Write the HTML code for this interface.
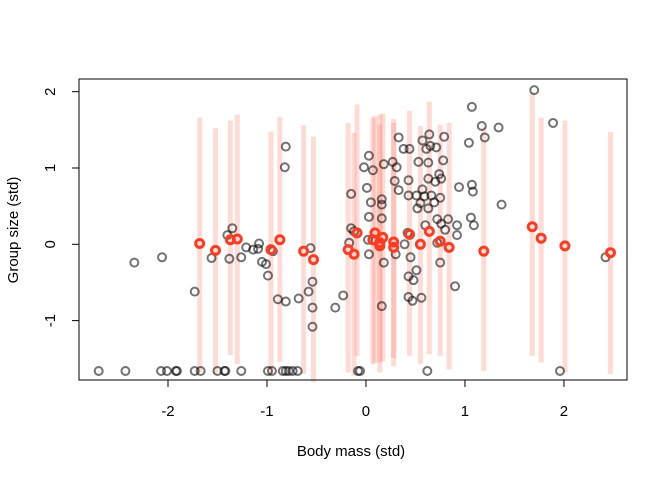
<!DOCTYPE html>
<html><head><meta charset="utf-8"><style>
body{margin:0;background:#fff;}
svg text{font-family:"Liberation Sans",sans-serif;font-size:15px;fill:#000;}
</style></head><body>
<svg id="chart" width="672" height="480">
<g id="bars"></g>
<g id="grey"></g>
<g id="red"></g>
<rect x="79" y="79" width="548" height="301" fill="none" stroke="#000" stroke-width="1"/>
<g id="axes"></g>
<text x="351" y="456" text-anchor="middle">Body mass (std)</text>
<text transform="translate(18,230) rotate(-90)" text-anchor="middle">Group size (std)</text>
</svg>
<script>
const greyX=[-2.70,-2.43,-2.07,-2.01,-1.92,-1.91,-1.73,-1.67,-1.50,-1.43,-1.42,-1.26,-0.99,-0.95,-0.84,-0.81,-0.78,-0.74,-0.69,-0.08,-0.06,0.62,1.96,
-0.81,-0.82,-0.15,-0.15,-0.12,-2.34,-2.06,-1.73,-1.56,-1.40,-1.35,-1.38,-1.26,-1.21,-1.14,-1.09,-1.08,-1.05,-1.01,-0.99,-0.94,-0.89,-0.81,-0.68,-0.56,-0.58,-0.54,-0.54,-0.54,-0.31,-0.23,-0.17,
-0.02,0.03,0.07,0.01,0.05,0.03,0.02,0.03,0.16,0.16,0.16,0.16,0.18,0.18,0.27,0.31,0.33,0.29,0.33,0.30,0.38,0.44,0.53,0.43,0.43,0.42,0.39,0.45,0.51,0.43,0.48,0.43,0.47,0.56,0.57,0.64,0.65,0.61,0.71,0.79,0.63,0.78,0.63,0.70,0.74,0.76,0.57,0.51,0.59,0.66,0.75,0.55,0.52,0.63,0.69,0.60,0.72,0.76,0.83,0.80,0.92,0.92,0.72,0.75,0.90,0.94,1.07,1.08,1.06,1.09,1.04,1.07,1.17,1.20,1.34,1.37,1.70,1.89,2.42];
const greyY=[-1.66,-1.66,-1.66,-1.66,-1.66,-1.66,-1.66,-1.66,-1.66,-1.66,-1.66,-1.66,-1.66,-1.66,-1.66,-1.66,-1.66,-1.66,-1.66,-1.66,-1.66,-1.66,-1.66,
1.28,1.01,0.66,0.21,0.17,-0.24,-0.17,-0.62,-0.18,0.12,0.21,-0.19,-0.17,-0.04,-0.07,-0.06,0.01,-0.23,-0.26,-0.41,-0.09,-0.72,-0.75,-0.71,-0.05,-0.62,-0.49,-0.83,-1.08,-0.83,-0.67,0.02,
1.01,1.16,0.97,0.74,0.55,0.36,0.06,-0.13,0.59,0.52,0.34,-0.81,1.05,-0.24,1.08,1.01,1.40,0.83,0.71,-0.13,1.25,1.25,1.08,0.84,0.64,0.15,0.00,-0.17,-0.34,-0.42,-0.47,-0.69,-0.74,-0.70,1.36,1.44,1.29,1.25,1.27,1.41,1.07,1.10,0.86,0.82,0.92,0.86,0.72,0.64,0.63,0.64,0.61,0.54,0.47,0.47,0.55,0.25,0.33,0.27,0.33,0.19,0.25,0.12,0.02,-0.24,-0.55,0.75,0.78,0.69,0.35,0.25,1.33,1.80,1.55,1.40,1.53,0.52,2.02,1.59,-0.17];
const estX=[-1.68,-1.52,-1.37,-1.30,-0.96,-0.87,-0.63,-0.53,-0.18,-0.12,-0.09,0.07,0.09,0.14,0.14,0.17,0.28,0.28,0.44,0.55,0.64,0.75,0.84,1.19,1.68,1.77,2.01,2.47];
const estY=[0.01,-0.08,0.06,0.07,-0.07,0.06,-0.09,-0.20,-0.07,-0.13,0.15,0.06,0.15,-0.02,0.02,0.09,0.03,-0.04,0.13,0.00,0.17,0.04,-0.04,-0.09,0.23,0.08,-0.02,-0.11];
const estHi=[1.66,1.52,1.62,1.70,1.48,1.67,1.56,1.41,1.59,1.46,1.83,1.66,1.68,1.57,1.70,1.71,1.64,1.59,1.75,1.55,1.87,1.57,1.59,1.53,1.99,1.66,1.62,1.47];
const estLo=[-1.68,-1.70,-1.45,-1.57,-1.70,-1.54,-1.70,-1.90,-1.68,-1.72,-1.46,-1.57,-1.55,-1.68,-1.55,-1.53,-1.60,-1.49,-1.46,-1.57,-1.44,-1.46,-1.64,-1.66,-1.46,-1.55,-1.68,-1.70];
const xTicks=[-2,-1,0,1,2];
const yTicks=[-1,0,1,2];

const NS="http://www.w3.org/2000/svg";
const X0=79,X1=627,Y0=380,Y1=79;
const xmin=-2.899,xmax=2.637,ymin=-1.778,ymax=2.166;
const sx=v=>X0+(v-xmin)/(xmax-xmin)*(X1-X0);
const sy=v=>Y0-(v-ymin)/(ymax-ymin)*(Y0-Y1);
function mk(t,a,p){const e=document.createElementNS(NS,t);for(const k in a)e.setAttribute(k,a[k]);p.appendChild(e);return e;}
const bars=document.getElementById('bars');
for(let i=0;i<estX.length;i++){
  const e=mk('line',{x1:sx(estX[i]),x2:sx(estX[i]),y1:sy(estHi[i]),y2:Math.min(sy(estLo[i]),382),stroke:'rgba(255,110,90,0.25)','stroke-width':5},bars);
  
  
}
const grey=document.getElementById('grey');
for(let i=0;i<greyX.length;i++){
  const e=mk('circle',{cx:sx(greyX[i]),cy:sy(greyY[i]),r:4,fill:'none',stroke:'rgba(0,0,0,0.55)','stroke-width':2},grey);
  
  
}
const red=document.getElementById('red');
for(let i=0;i<estX.length;i++){
  const e=mk('circle',{cx:sx(estX[i]),cy:sy(estY[i]),r:4,fill:'none',stroke:'#ff3b22','stroke-width':3},red);
  
  
}
const ax=document.getElementById('axes');
mk('line',{x1:sx(xTicks[0]),x2:sx(xTicks[xTicks.length-1]),y1:380,y2:380,stroke:'#000'},ax);
xTicks.forEach(v=>{
  mk('line',{x1:sx(v),x2:sx(v),y1:380,y2:387,stroke:'#000'},ax);
  const t=mk('text',{x:sx(v),y:416,'text-anchor':'middle'},ax);t.textContent=v;
  
  
});
mk('line',{x1:79,x2:79,y1:sy(yTicks[0]),y2:sy(yTicks[yTicks.length-1]),stroke:'#000'},ax);
yTicks.forEach(v=>{
  mk('line',{x1:72,x2:79,y1:sy(v),y2:sy(v),stroke:'#000'},ax);
  const t=mk('text',{transform:`translate(55,${sy(v)}) rotate(-90)`,'text-anchor':'middle'},ax);t.textContent=v;
  
  
});
</script>
</body></html>
